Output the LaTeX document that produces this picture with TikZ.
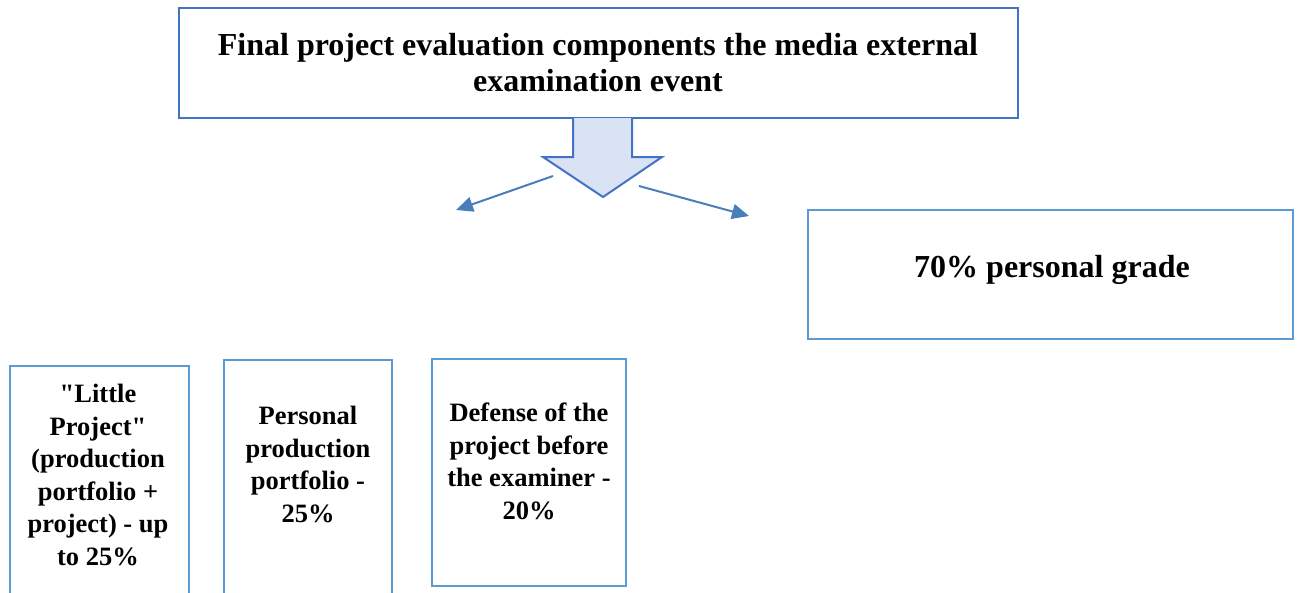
\documentclass[tikz,border=0pt]{standalone}
\usepackage{fontspec}
\setmainfont{Liberation Serif}[Ligatures=TeXOff]
\usetikzlibrary{arrows.meta}
\definecolor{darkblue}{HTML}{4472C4}
\definecolor{lightblue}{HTML}{5B9BD5}
\definecolor{arrowfill}{HTML}{DAE3F3}
\definecolor{linkblue}{HTML}{4A7EBB}
\begin{document}
\begin{tikzpicture}[x=1pt,y=-1pt,
  boxA/.style={draw=darkblue, line width=2pt, fill=white, inner sep=0pt},
  boxB/.style={draw=lightblue, line width=2.5pt, inner sep=0pt},
  bigtext/.style={font=\fontsize{32}{36}\selectfont\bfseries, align=center, inner sep=0pt},
  smalltext/.style={font=\fontsize{26.5}{32.5}\selectfont\bfseries, align=center, inner sep=0pt, anchor=north},
  link/.style={draw=linkblue, line width=2pt, -{Triangle[length=17pt,width=15pt]}}]
\useasboundingbox (0,0) rectangle (1298,592);

% boxes
\node[boxA, minimum width=839pt, minimum height=110pt] (top) at (598.5,63) {};
\node[boxB, minimum width=485pt, minimum height=129pt] (grade) at (1050.5,274.5) {};
\node[boxB, minimum width=179pt, minimum height=234pt] (little) at (99.5,483) {};
\node[boxB, minimum width=168pt, minimum height=240pt] (portfolio) at (308,480) {};
\node[boxB, minimum width=194pt, minimum height=227pt] (defense) at (529,472.5) {};

% block arrow
\draw[draw=darkblue, fill=arrowfill, line width=2pt, line join=miter]
  (573,118) -- (573,157) -- (543,157) -- (603,197) -- (662,157) -- (632,157) -- (632,118);

% texts
\node[bigtext] (toptext) at (598,63) {Final project evaluation components the media external\\examination event};
\node[bigtext] (gradetext) at (1052,270) {70\% personal grade};
\node[smalltext] (littletext) at (98,384) {"Little\\Project"\\(production\\portfolio +\\project) - up\\to 25\%};
\node[smalltext] (portfoliotext) at (308,406) {Personal\\production\\portfolio -\\25\%};
\node[smalltext] (defensetext) at (529,403) {Defense of the\\project before\\the examiner -\\20\%};

% connectors
\coordinate (l1) at (553,176);
\coordinate (l2) at (456,210);
\coordinate (r1) at (639,186);
\coordinate (r2) at (749,216);
\draw[link] (l1) -- (l2);
\draw[link] (r1) -- (r2);
\end{tikzpicture}
\end{document}
